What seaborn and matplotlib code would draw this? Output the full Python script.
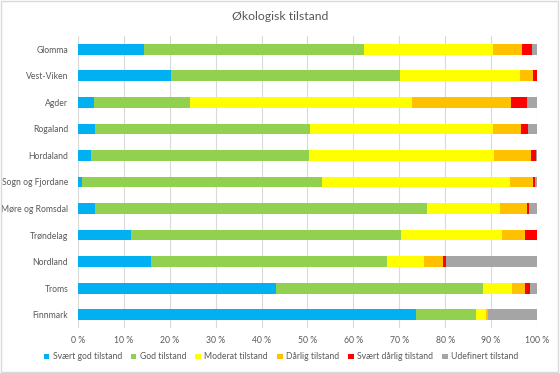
import matplotlib
matplotlib.use("Agg")
import matplotlib.pyplot as plt
import seaborn as sns
import numpy as np
import pandas as pd
from matplotlib.patches import Patch, Rectangle
from matplotlib.ticker import FuncFormatter, MultipleLocator

regions = ["Glomma", "Vest-Viken", "Agder", "Rogaland", "Hordaland", "Sogn og Fjordane",
           "Møre og Romsdal", "Trøndelag", "Nordland", "Troms", "Finnmark"]
categories = ["Svært god tilstand", "God tilstand", "Moderat tilstand",
              "Dårlig tilstand", "Svært dårlig tilstand", "Udefinert tilstand"]
svaert_god = [14.4, 20.2, 3.5, 3.7, 2.8, 0.9, 3.7, 11.5, 15.9, 43.1, 73.6]
god = [47.9, 50.0, 20.9, 46.8, 47.5, 52.3, 72.3, 58.9, 51.4, 45.1, 13.1]
moderat = [28.1, 26.1, 48.4, 39.9, 40.3, 40.9, 15.9, 22.0, 8.1, 6.4, 2.2]
darlig = [6.3, 2.8, 21.5, 6.1, 8.1, 5.0, 5.9, 5.0, 4.1, 2.8, 0.4]
svaert_darlig = [2.2, 0.9, 3.5, 1.6, 1.1, 0.5, 0.5, 2.6, 0.7, 1.1, 0.0]
udefinert = [1.1, 0.0, 2.2, 1.9, 0.2, 0.4, 1.7, 0.0, 19.8, 1.5, 10.7]
colors = ["#00B0F0", "#92D050", "#FFFF00", "#FFC000", "#FF0000", "#A5A5A5"]

series = [svaert_god, god, moderat, darlig, svaert_darlig, udefinert]

sns.set_theme(style="white")
plt.rcParams['font.family'] = ['Lato', 'DejaVu Sans']

fig = plt.figure(figsize=(5.6, 3.73), dpi=100)
fig.patch.set_facecolor("white")
ax = fig.add_axes([0.1393, 0.1206, 0.8196, 0.783])
ax.set_facecolor("white")

cum = np.cumsum(np.array(series), axis=0)
for i in range(len(series) - 1, -1, -1):
    df = pd.DataFrame({"region": regions, "value": cum[i]})
    sns.barplot(data=df, x="value", y="region", color=colors[i], orient="h",
                width=0.4, ax=ax, saturation=1, linewidth=0, order=regions)

ax.set_xlim(0, 100)
ax.set_ylim(10.5, -0.5)
ax.xaxis.set_major_locator(MultipleLocator(10))
ax.xaxis.set_major_formatter(FuncFormatter(lambda v, p: f"{int(round(v))} %"))
ax.grid(axis="x", color="#D9D9D9", linewidth=0.8)
ax.set_axisbelow(True)
for s in ax.spines.values():
    s.set_visible(False)
ax.set_xlabel("")
ax.set_ylabel("")
ax.tick_params(axis="both", length=0, labelsize=6.2, colors="#595959")
ax.tick_params(axis="x", pad=6)
ax.tick_params(axis="y", pad=7)

fig.text(0.5, 0.957, "Økologisk tilstand", ha="center", va="center",
         fontsize=8.8, color="#595959")

handles = [Patch(facecolor=c, edgecolor="none", label=l) for c, l in zip(colors, categories)]
fig.legend(handles=handles, loc="center", bbox_to_anchor=(0.502, 0.043), ncol=6,
           frameon=False, fontsize=6.2, handlelength=0.65, handleheight=0.65,
           handletextpad=0.4, columnspacing=1.05, labelcolor="#595959")

fig.add_artist(Rectangle((0.002, 0.003), 0.995, 0.993, transform=fig.transFigure,
                         fill=False, edgecolor="#D9D9D9", linewidth=1))

fig.savefig("out.png", dpi=100)
